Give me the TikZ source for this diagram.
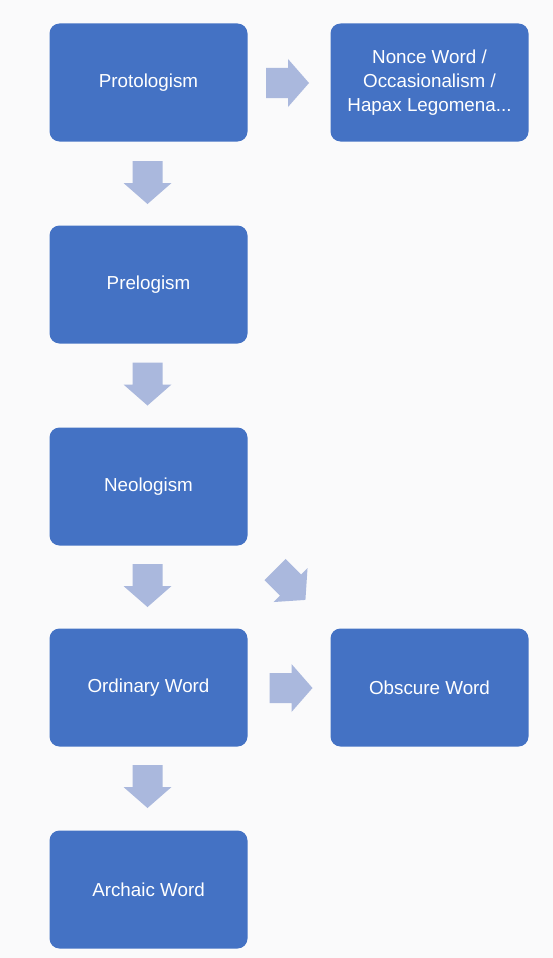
\documentclass[tikz,border=0pt]{standalone}
\usepackage{fontspec}
\setmainfont{Liberation Sans}
\definecolor{boxblue}{RGB}{68,114,196}
\definecolor{arrowblue}{RGB}{170,184,221}
\definecolor{bgwhite}{RGB}{250,250,251}
\begin{document}
\begin{tikzpicture}[x=1pt,y=-1pt,
  wordbox/.style={fill=boxblue, rounded corners=10pt, minimum width=198pt, minimum height=118pt,
    inner sep=0pt, text=white, align=center,
    font=\fontsize{18.8pt}{24pt}\selectfont},
  blockarrow/.pic={\fill[arrowblue] (0pt,-15pt) -- (22pt,-15pt) -- (22pt,-24pt) -- (43pt,0pt)
    -- (22pt,24pt) -- (22pt,15pt) -- (0pt,15pt) -- cycle;}]
\fill[bgwhite] (0,0) rectangle (553,958);
\useasboundingbox (0,0) rectangle (553,958);
\node[wordbox] (proto) at (148.5,82.5) {Protologism};
\node[wordbox] (nonce) at (429.5,82.5) {Nonce Word /\\Occasionalism /\\Hapax Legomena...};
\node[wordbox] (pre) at (148.5,284.5) {Prelogism};
\node[wordbox] (neo) at (148.5,486.5) {Neologism};
\node[wordbox] (ord) at (148.5,687.5) {Ordinary Word};
\node[wordbox] (obs) at (429.5,687.5) {Obscure Word};
\node[wordbox] (arch) at (148.5,889.5) {Archaic Word};
\pic (a1) at (266,83) {blockarrow};
\pic[rotate=-90] (a2) at (147.5,161) {blockarrow};
\pic[rotate=-90] (a3) at (147.5,362.5) {blockarrow};
\pic[rotate=-90] (a4) at (147.5,564) {blockarrow};
\pic[rotate=-90] (a5) at (147.5,765) {blockarrow};
\pic (a6) at (269.5,688) {blockarrow};
\pic[rotate=-45] (a7) at (275,569.5) {blockarrow};
\end{tikzpicture}
\end{document}
